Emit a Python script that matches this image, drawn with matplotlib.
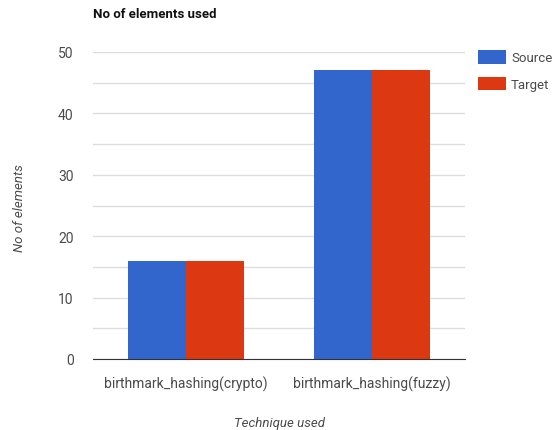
import numpy as np
import matplotlib
matplotlib.use('Agg')
import matplotlib.pyplot as plt

# --- data ---
categories = ['birthmark_hashing(crypto)', 'birthmark_hashing(fuzzy)']
source_vals = [16, 47]
target_vals = [16, 47]
series_names = ['Source', 'Target']
yticks = [0, 10, 20, 30, 40, 50]

plt.rcParams['font.family'] = ['Roboto', 'DejaVu Sans']

fig = plt.figure(figsize=(5.57, 4.31), dpi=100)
ax = fig.add_axes([93 / 557, 1 - 360 / 431, 372 / 557, 307 / 431])

x = np.arange(len(categories))
w = 0.31
ax.bar(x - w / 2, source_vals, w, color='#3366cc', label=series_names[0], zorder=3)
ax.bar(x + w / 2, target_vals, w, color='#dc3912', label=series_names[1], zorder=3)

ax.set_xlim(-0.5, 1.5)
ax.set_ylim(0, 50)
ax.set_yticks(yticks)
ax.set_yticks(np.arange(5, 50, 10), minor=True)
ax.set_xticks(x)
ax.set_xticklabels(categories)
ax.grid(axis='y', which='both', color='#dddddd', linewidth=1, zorder=0)
ax.tick_params(axis='both', which='both', length=0, colors='#4a4a4a', labelsize=10)
ax.tick_params(axis='y', pad=14)
ax.tick_params(axis='x', pad=12)
for s in ['top', 'right', 'left']:
    ax.spines[s].set_visible(False)
ax.spines['bottom'].set_color('#333333')
ax.spines['bottom'].set_zorder(4)

fig.text(20 / 557, 1 - 208 / 431, 'No of elements', style='italic', color='#4a4a4a',
         fontsize=9.5, rotation=90, ha='center', va='center')
ax.set_xlabel('Technique used', style='italic', color='#4a4a4a', fontsize=9.5, labelpad=18)

fig.text(93 / 557, 1 - 15 / 431, 'No of elements used', fontsize=9.5, fontweight='bold',
         color='#111111', va='center', ha='left')

fig.legend(loc='upper left', bbox_to_anchor=(478 / 557, 1 - 51 / 431), frameon=False,
           fontsize=9.5, handlelength=2.1, handleheight=1.2, labelspacing=0.95,
           handletextpad=0.4, borderpad=0, borderaxespad=0, labelcolor='#4a4a4a')

fig.savefig('out.png', dpi=100)
